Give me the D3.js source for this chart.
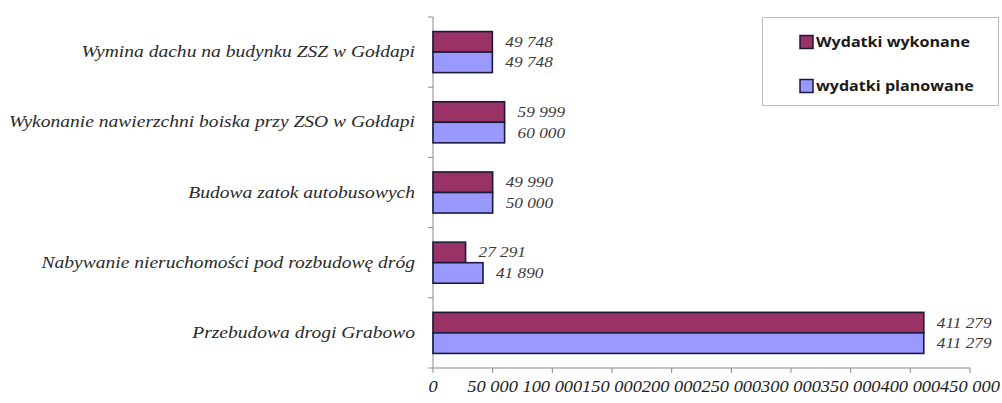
<!DOCTYPE html>
<html><head><meta charset="utf-8">
<script src="https://cdn.jsdelivr.net/npm/d3@7"></script>
<style>
html,body{margin:0;padding:0;background:#fff;}
svg{display:block;}
</style></head>
<body>
<svg id="chart" width="1002" height="403"></svg>
<script>
const categories = [
  "Wymina dachu na budynku ZSZ w Gołdapi",
  "Wykonanie nawierzchni boiska przy ZSO w Gołdapi",
  "Budowa zatok autobusowych",
  "Nabywanie nieruchomości pod rozbudowę dróg",
  "Przebudowa drogi Grabowo"
];
const seriesNames = ["Wydatki wykonane", "wydatki planowane"];
const wykonane = [49748, 59999, 49990, 27291, 411279];
const planowane = [49748, 60000, 50000, 41890, 411279];
const xTicks = [0, 50000, 100000, 150000, 200000, 250000, 300000, 350000, 400000, 450000];

const colors = ["#993366", "#9999FF"];
const SX = 1.15; // horizontal stretch of text in the source image
const SERIF = "Liberation Serif";
const SANS = "Open Sans";

const svg = d3.select("#chart");
const loc = d3.formatLocale({decimal: ",", thousands: "\u00a0", grouping: [3], currency: ["", ""]});
const fmt = loc.format(",d");

const x = d3.scaleLinear().domain([0, 450000]).range([433, 970]);
const y = d3.scaleBand().domain(categories).range([17, 368]).paddingInner(0.415).paddingOuter(0.2075);
const ySub = d3.scaleBand().domain(seriesNames).range([0, y.bandwidth()]);

const data = categories.map((c, i) => ({cat: c, vals: [wykonane[i], planowane[i]]}));

function serifText(g, tx, ty, size) {
  return g.append("text")
    .attr("transform", `translate(${tx},${ty}) scale(${SX},1)`)
    .style("font-family", SERIF).style("font-style", "italic").style("font-size", size + "px");
}

// axes lines
svg.append("line").attr("x1", 433).attr("x2", 433).attr("y1", y.range()[0]).attr("y2", y.range()[1])
  .attr("stroke", "#8a8a8a").attr("stroke-width", 1);
svg.append("line").attr("x1", x.range()[0]).attr("x2", x.range()[1]).attr("y1", 368).attr("y2", 368)
  .attr("stroke", "#8a8a8a").attr("stroke-width", 1);

// y category boundary ticks
const step = y.step();
const bounds = categories.map(c => y(c) - step * y.paddingInner() / 2);
bounds.push(y.range()[1]);
svg.selectAll(".ytick").data(bounds).join("line")
  .attr("x1", 428).attr("x2", 433).attr("y1", d => d).attr("y2", d => d)
  .attr("stroke", "#8a8a8a");

// x ticks
svg.selectAll(".xtick").data(xTicks).join("line")
  .attr("x1", d => x(d)).attr("x2", d => x(d)).attr("y1", 368).attr("y2", 373)
  .attr("stroke", "#8a8a8a");

const tl = svg.append("g");
xTicks.forEach(t => {
  serifText(tl, x(t), 392, 16).attr("text-anchor", "middle").attr("fill", "#222").text(fmt(t));
});

// bars
const groups = svg.selectAll(".grp").data(data).join("g")
  .attr("transform", d => `translate(0,${y(d.cat)})`);
groups.selectAll("rect").data(d => d.vals.map((v, j) => ({v, s: seriesNames[j], j}))).join("rect")
  .attr("x", x(0)).attr("y", d => ySub(d.s))
  .attr("width", d => x(d.v) - x(0)).attr("height", ySub.bandwidth())
  .attr("fill", d => colors[d.j]).attr("stroke", "#1c1a3c").attr("stroke-width", 1.6);

// value labels
groups.each(function(d) {
  const g = d3.select(this);
  d.vals.forEach((v, j) => {
    serifText(g, x(v) + 13, ySub(seriesNames[j]) + ySub.bandwidth() / 2 + 5, 15)
      .attr("fill", "#3a3a3a").text(fmt(v));
  });
});

// category labels
const cl = svg.append("g");
categories.forEach(c => {
  serifText(cl, 415, y(c) + y.bandwidth() / 2 + 5, 17).attr("text-anchor", "end")
    .attr("fill", "#2a2a2a").text(c);
});

// legend
const lg = svg.append("g");
lg.append("rect").attr("x", 762.5).attr("y", 17.5).attr("width", 236).attr("height", 88)
  .attr("fill", "#fff").attr("stroke", "#bdbdbd").attr("stroke-width", 1);
seriesNames.forEach((s, i) => {
  const cy = 42 + i * 44;
  lg.append("rect").attr("x", 800).attr("y", cy - 6.5).attr("width", 13).attr("height", 13)
    .attr("fill", colors[i]).attr("stroke", "#1c1a3c").attr("stroke-width", 1.5);
  lg.append("text").attr("transform", `translate(816,${cy + 5}) scale(${SX},1)`)
    .style("font-family", SANS).style("font-weight", "bold").style("font-size", "14px")
    .attr("fill", "#1a1a1a").text(s);
});
</script>
</body></html>
